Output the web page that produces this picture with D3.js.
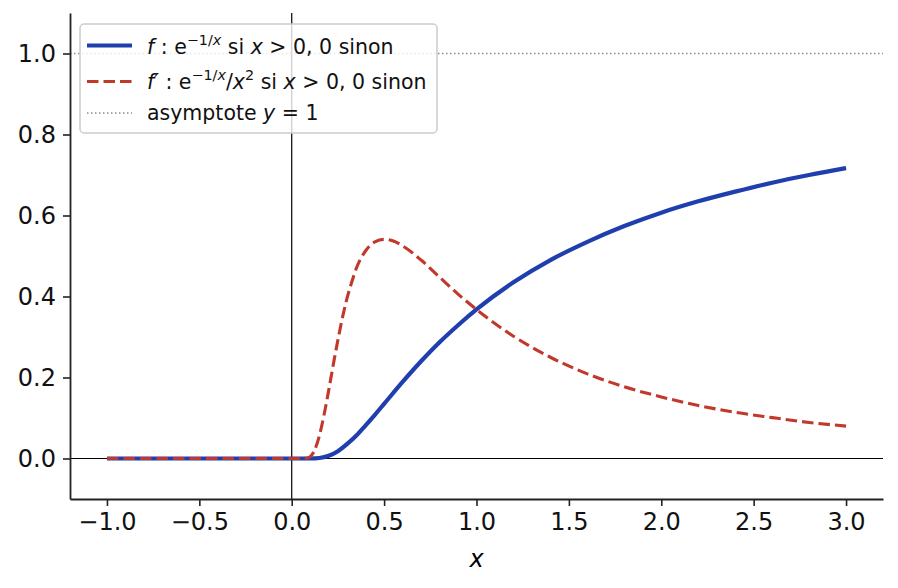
<!DOCTYPE html>
<html>
<head>
<meta charset="utf-8">
<script src="https://cdn.jsdelivr.net/npm/d3@7"></script>
<style>
  body { margin: 0; background: #fff; }
  svg { font-family: "DejaVu Sans", sans-serif; }
</style>
</head>
<body>
<div id="container"></div>
<script>
/**
 * DATA
 * */
const fX = [-1.0, -0.5, 0, 0.05, 0.1, 0.15, 0.2, 0.25, 0.3, 0.35, 0.4, 0.45, 0.5,
  0.6, 0.7, 0.8, 0.9, 1.0, 1.2, 1.4, 1.6, 1.8, 2.0, 2.2, 2.4, 2.6, 2.8, 3.0];
const fY = [0, 0, 0, 0, 0.00005, 0.0013, 0.0067, 0.018, 0.036, 0.057, 0.082, 0.108, 0.135,
  0.189, 0.240, 0.287, 0.329, 0.368, 0.435, 0.490, 0.535, 0.574, 0.607, 0.635, 0.659, 0.681, 0.700, 0.717];

const dX = [-1.0, -0.5, 0, 0.05, 0.08, 0.1, 0.12, 0.15, 0.175, 0.2, 0.225, 0.25, 0.275, 0.3,
  0.325, 0.35, 0.4, 0.45, 0.5, 0.55, 0.6, 0.7, 0.8, 0.9, 1.0, 1.2, 1.4, 1.6, 1.8, 2.0,
  2.2, 2.4, 2.6, 2.8, 3.0];
const dY = [0, 0, 0, 0, 0.0006, 0.0045, 0.017, 0.057, 0.108, 0.168, 0.232, 0.293, 0.349, 0.397,
  0.436, 0.470, 0.513, 0.535, 0.541, 0.537, 0.525, 0.490, 0.448, 0.406, 0.368, 0.302, 0.250,
  0.209, 0.177, 0.152, 0.131, 0.114, 0.101, 0.089, 0.080];

const xTicks = [-1.0, -0.5, 0.0, 0.5, 1.0, 1.5, 2.0, 2.5, 3.0];
const yTicks = [0.0, 0.2, 0.4, 0.6, 0.8, 1.0];
const asymptote = 1;

/**
 * CONSTANTS
 * */
const width = 898, height = 588,
  margin = { top: 13, bottom: 89, left: 70, right: 15 };

const blue = "#1f3fae", red = "#c0392b";
const tickFont = 24, legendFont = 20.5;

const svg = d3.select("#container")
  .append("svg")
  .attr("width", width)
  .attr("height", height);

const x = d3.scaleLinear().domain([-1.2, 3.2]).range([margin.left, width - margin.right]);
const y = d3.scaleLinear().domain([-0.1, 1.1]).range([height - margin.bottom, margin.top]);

// reference lines
svg.append("line")
  .attr("x1", x.range()[0]).attr("x2", x.range()[1])
  .attr("y1", y(0)).attr("y2", y(0))
  .attr("stroke", "#000").attr("stroke-width", 1.2);
svg.append("line")
  .attr("x1", x(0)).attr("x2", x(0))
  .attr("y1", y.range()[0]).attr("y2", y.range()[1])
  .attr("stroke", "#000").attr("stroke-width", 1.2);
svg.append("line")
  .attr("x1", x.range()[0]).attr("x2", x.range()[1])
  .attr("y1", y(asymptote)).attr("y2", y(asymptote))
  .attr("stroke", "#8c8c8c").attr("stroke-width", 1.5)
  .attr("stroke-dasharray", "1.5,2.5");

// curves
const line = d3.line()
  .x(d => x(d[0]))
  .y(d => y(d[1]))
  .curve(d3.curveMonotoneX);

svg.append("path")
  .datum(d3.zip(fX, fY))
  .attr("d", line)
  .attr("fill", "none")
  .attr("stroke", blue)
  .attr("stroke-width", 4.2);

svg.append("path")
  .datum(d3.zip(dX, dY))
  .attr("d", line)
  .attr("fill", "none")
  .attr("stroke", red)
  .attr("stroke-width", 3.1)
  .attr("stroke-dasharray", "11.5,5");

// axes
const xAxis = svg.append("g")
  .attr("transform", `translate(0,${y.range()[0]})`)
  .call(d3.axisBottom(x).tickValues(xTicks).tickFormat(d => d3.format(".1f")(d).replace("-", "\u2212"))
    .tickSize(7).tickSizeOuter(0).tickPadding(7));
const yAxis = svg.append("g")
  .attr("transform", `translate(${x.range()[0]},0)`)
  .call(d3.axisLeft(y).tickValues(yTicks).tickFormat(d3.format(".1f"))
    .tickSize(7).tickSizeOuter(0).tickPadding(7));

[xAxis, yAxis].forEach(g => {
  g.select(".domain").attr("stroke", "#222").attr("stroke-width", 1.8);
  g.selectAll(".tick line").attr("stroke", "#222").attr("stroke-width", 1.6);
  g.selectAll(".tick text")
    .attr("font-family", "DejaVu Sans")
    .attr("font-size", tickFont)
    .attr("fill", "#111");
});

svg.append("text")
  .attr("x", (x.range()[0] + x.range()[1]) / 2)
  .attr("y", 567)
  .attr("text-anchor", "middle")
  .attr("font-size", tickFont)
  .attr("font-style", "italic")
  .text("x");

// legend
const legend = svg.append("g");
legend.append("rect")
  .attr("x", 80).attr("y", 24)
  .attr("width", 357).attr("height", 109)
  .attr("rx", 4)
  .attr("fill", "#fff").attr("fill-opacity", 0.8)
  .attr("stroke", "#cccccc").attr("stroke-width", 1.5);

const rows = [
  { yy: 45.5, color: blue, width: 4.2, dash: null },
  { yy: 81.5, color: red, width: 3.1, dash: "11.5,5" },
  { yy: 113, color: "#8c8c8c", width: 1.5, dash: "1.5,2.5" }
];
legend.selectAll("line.handle")
  .data(rows)
  .join("line")
  .attr("class", "handle")
  .attr("x1", 87).attr("x2", 132)
  .attr("y1", d => d.yy).attr("y2", d => d.yy)
  .attr("stroke", d => d.color)
  .attr("stroke-width", d => d.width)
  .attr("stroke-dasharray", d => d.dash);

// parts: t = text, i = italic, s = superscript
function addText(yy, parts) {
  const t = legend.append("text")
    .attr("x", 147).attr("y", yy)
    .attr("font-size", legendFont)
    .attr("fill", "#111");
  let up = false;
  parts.forEach(p => {
    const s = t.append("tspan").text(p.t);
    if (p.i) s.attr("font-style", "italic");
    if (p.s) s.attr("font-size", legendFont * 0.7);
    if (p.s && !up) s.attr("dy", -9);
    if (!p.s && up) s.attr("dy", 9);
    up = !!p.s;
  });
}

addText(54, [
  { t: "f", i: true }, { t: " : e" },
  { t: "\u22121/", s: true }, { t: "x", i: true, s: true },
  { t: " si " }, { t: "x", i: true }, { t: " > 0, 0 sinon" }
]);
addText(89, [
  { t: "f\u2032", i: true }, { t: " : e" },
  { t: "\u22121/", s: true }, { t: "x", i: true, s: true },
  { t: "/" }, { t: "x", i: true }, { t: "2", s: true },
  { t: " si " }, { t: "x", i: true }, { t: " > 0, 0 sinon" }
]);
addText(120, [
  { t: "asymptote " }, { t: "y", i: true }, { t: " = 1" }
]);
</script>
</body>
</html>
